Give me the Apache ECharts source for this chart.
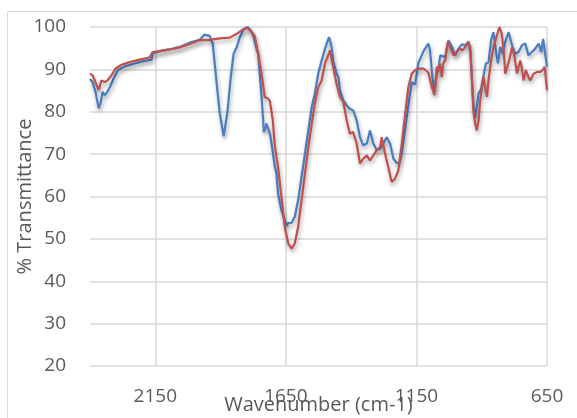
<!DOCTYPE html>
<html>
<head>
<meta charset="utf-8">
<script src="https://cdn.jsdelivr.net/npm/echarts@6/dist/echarts.min.js"></script>
<style>html,body{margin:0;padding:0;background:#fff}#c{width:577px;height:418px}</style>
</head>
<body>
<div id="c"></div>
<script>
var xTicks = [650, 1150, 1650, 2150];
var yTicks = [20, 30, 40, 50, 60, 70, 80, 90, 100];

var wnBlue = [2400,2390,2379,2367,2360,2352,2344,2333,2321,2310,2294,2268,2229,2191,2164,2160,2133,2095,2057,2018,1980,1961,1942,1930,1915,1903,1888,1873,1861,1850,1838,1826,1811,1796,1784,1773,1761,1756,1750,1743,1738,1734,1731,1727,1724,1719,1711,1705,1692,1686,1680,1667,1654,1647,1642,1628,1616,1603,1590,1577,1564,1551,1539,1526,1513,1500,1485,1481,1475,1469,1456,1449,1443,1430,1417,1405,1392,1379,1366,1354,1340,1328,1321,1315,1302,1289,1277,1264,1251,1238,1225,1215,1206,1194,1181,1168,1155,1143,1123,1104,1098,1089,1081,1072,1066,1059,1053,1040,1027,1014,1002,989,976,963,951,944,938,932,925,919,912,902,893,884,874,864,855,846,838,829,820,810,797,784,772,759,746,733,721,708,695,682,672,665,659,650];
var tBlue = [87.7,87.0,84.7,80.8,81.9,84.7,83.9,84.7,86.2,87.8,89.8,90.7,91.4,92.0,92.3,93.7,94.3,94.7,95.3,96.3,97.0,98.2,97.9,96.1,86.7,79.6,74.2,80.3,88.2,93.7,95.3,97.6,99.6,100,99.2,97.6,94.5,93.7,89.0,83.5,79.0,75.2,75.6,76.4,77.2,77.6,74.8,72.5,67.0,65.5,60.7,56.7,54.4,53.0,53.7,53.8,55.2,59.1,64.6,70.1,75.6,81.1,84.3,89.0,92.1,94.9,97.6,96.9,95.3,92.1,89.0,88.2,85.1,82.7,81.5,80.7,80.3,78.0,74.0,72.1,72.5,75.6,74.0,72.5,70.9,71.3,72.5,74.0,72.5,68.9,67.9,67.8,70.1,75.5,81.5,87.0,86.4,91.4,94.3,96.1,94.5,88.2,84.7,89.0,89.8,93.3,92.9,92.9,96.9,95.3,93.3,94.9,95.9,95.7,96.5,94.5,88.2,81.9,78.5,81.1,84.3,85.5,88.6,91.4,91.7,96.9,98.8,94.5,91.4,95.3,93.7,96.5,98.8,95.7,93.7,94.1,95.7,96.1,93.3,94.1,94.9,96.1,94.1,97.2,96.9,90.6];

var wnRed = [2400,2390,2379,2367,2356,2344,2333,2318,2302,2279,2248,2210,2172,2160,2133,2095,2057,2018,1980,1942,1930,1903,1865,1838,1815,1796,1780,1769,1757,1743,1731,1718,1711,1705,1700,1692,1680,1667,1654,1641,1628,1616,1603,1590,1577,1564,1551,1539,1526,1513,1500,1481,1469,1456,1443,1430,1417,1405,1392,1379,1366,1354,1340,1328,1315,1302,1289,1283,1270,1258,1245,1232,1219,1206,1194,1181,1168,1155,1143,1136,1123,1117,1104,1091,1081,1072,1066,1059,1053,1047,1040,1030,1021,1008,995,983,974,963,951,944,938,932,925,919,912,906,899,893,887,880,874,864,855,842,832,823,814,810,803,795,784,774,765,759,752,746,740,731,721,714,701,688,676,667,659,650];
var tRed = [89.0,88.6,87.0,85.1,87.4,87.0,87.4,88.6,90.2,91.1,91.7,92.3,92.8,94.1,94.3,94.7,95.2,96.0,96.9,96.9,97.1,97.3,97.5,98.4,99.4,99.7,98.8,97.8,94.0,89.0,83.5,83.1,82.5,80.0,78.0,71.7,67.0,59.9,52.8,48.9,47.7,48.9,52.8,59.1,65.4,71.7,77.2,81.9,85.8,87.4,91.4,94.5,90.6,86.6,83.5,82.3,78.0,74.8,75.2,72.5,67.8,68.9,69.7,68.5,69.7,70.9,71.7,74.0,70.1,67.0,63.4,64.2,66.2,72.5,79.0,85.8,89.0,89.8,90.2,90.2,90.2,89.8,89.2,85.8,83.9,90.6,89.8,91.4,88.2,91.4,92.1,96.5,95.3,93.3,94.1,94.9,94.5,95.3,96.5,95.3,88.2,80.3,77.2,75.6,78.0,82.7,85.8,88.2,85.8,83.5,87.4,92.1,95.3,98.0,100,98.4,92.9,89.0,89.0,92.1,95.3,92.9,89.0,90.6,92.1,90.2,87.4,89.8,88.2,87.4,89.0,89.4,89.4,89.8,90.6,85.1];

function pairs(xs, ys) { return xs.map(function (x, i) { return [x, ys[i]]; }); }

var font = '"Open Sans", Lato, "Liberation Sans", sans-serif';
var txt = '#595959';
var gridC = '#d9d9d9';
var shadow = { shadowColor: 'rgba(0,0,0,0.35)', shadowBlur: 4, shadowOffsetX: 1, shadowOffsetY: 3 };

var chart = echarts.init(document.getElementById('c'), null, { renderer: 'canvas' });
chart.setOption({
  animation: false,
  backgroundColor: '#fff',
  graphic: [{ type: 'rect', shape: { x: 7.5, y: 11.5, width: 600, height: 450 }, style: { fill: 'none', stroke: gridC, lineWidth: 1 }, silent: true }],
  grid: { left: 90, right: 30, top: 27, bottom: 52, containLabel: false, outerBoundsMode: 'none' },
  xAxis: {
    type: 'value', inverse: true, min: 650, max: 2400, interval: 500,
    name: 'Wavenumber (cm-1)', nameLocation: 'middle', nameGap: 29, nameMoveOverlap: false,
    nameTextStyle: { color: txt, fontSize: 20, fontFamily: font },
    axisLine: { show: false }, axisTick: { show: false },
    axisLabel: { color: txt, fontSize: 19, fontFamily: font, margin: 21, showMaxLabel: false,
      formatter: function (v) { return xTicks.indexOf(v) >= 0 ? String(v) : ''; } },
    splitLine: { show: true, showMaxLine: false, showMinLine: true, lineStyle: { color: gridC, width: 1.5 } }
  },
  yAxis: {
    type: 'value', min: 20, max: 100, interval: 10,
    name: '% Transmittance', nameLocation: 'middle', nameGap: 55, nameMoveOverlap: false,
    nameTextStyle: { color: txt, fontSize: 20, fontFamily: font },
    axisLine: { show: false }, axisTick: { show: false },
    axisLabel: { color: txt, fontSize: 19, fontFamily: font, margin: 24,
      formatter: function (v) { return yTicks.indexOf(v) >= 0 ? String(v) : ''; } },
    splitLine: { show: true, lineStyle: { color: gridC, width: 1.5 } }
  },
  series: [
    { type: 'line', name: 'A', data: pairs(wnBlue, tBlue), showSymbol: false, symbol: 'none',
      lineStyle: Object.assign({ color: '#4A7EC4', width: 2.2 }, shadow), itemStyle: { color: '#4A7EC4' } },
    { type: 'line', name: 'B', data: pairs(wnRed, tRed), showSymbol: false, symbol: 'none',
      lineStyle: Object.assign({ color: '#C0504D', width: 2.2 }, shadow), itemStyle: { color: '#C0504D' } }
  ]
});
</script>
</body>
</html>
